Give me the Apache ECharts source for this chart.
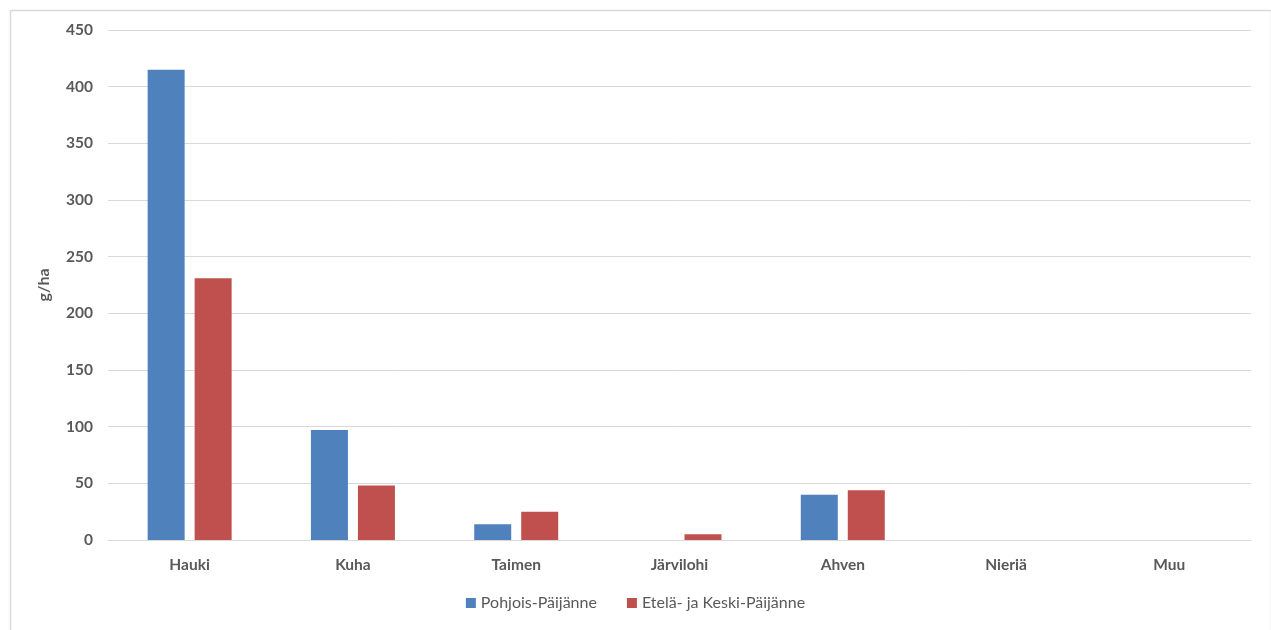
<!DOCTYPE html>
<html><head><meta charset="utf-8">
<script src="https://cdn.jsdelivr.net/npm/echarts@6/dist/echarts.min.js"></script>
<style>html,body{margin:0;padding:0;background:#fff;}#c{width:1271px;height:630px;}</style>
</head><body><div id="c"></div>
<script>
const categories = ['Hauki','Kuha','Taimen','Järvilohi','Ahven','Nieriä','Muu'];
const seriesNames = ['Pohjois-Päijänne','Etelä- ja Keski-Päijänne'];
const pohjois = [415, 97, 14, 0, 40, 0, 0];
const etela = [231, 48, 25, 5, 44, 0, 0];
const yTicks = [0,50,100,150,200,250,300,350,400,450];

const chart = echarts.init(document.getElementById('c'));
const font = 'Lato, "Open Sans", sans-serif';
chart.setOption({
  animation: false,
  graphic: [{type:'rect', left: 8, top: 8, shape:{width:1261, height:640}, style:{fill:'none', stroke:'#d9d9d9', lineWidth:1.5}}],
  grid: {left: 108, right: 20, top: 30, bottom: 90, containLabel: false},
  legend: {
    bottom: 14, left: 'center', itemWidth: 10, itemHeight: 10, itemGap: 30,
    icon: 'rect',
    textStyle: {color:'#595959', fontSize: 16, fontFamily: font},
    data: seriesNames
  },
  xAxis: {
    type: 'category', data: categories,
    axisLine: {lineStyle:{color:'#d9d9d9'}},
    axisTick: {show:false},
    axisLabel: {color:'#595959', fontSize:15.5, fontWeight:'bold', fontFamily: font, margin: 17}
  },
  yAxis: {
    type: 'value', min: yTicks[0], max: yTicks[yTicks.length-1], interval: 50,
    name: 'g/ha', nameLocation: 'middle', nameGap: 56, nameRotate: 90,
    nameTextStyle: {color:'#595959', fontSize:16, fontWeight:'bold', fontFamily: font},
    axisLine: {show:false}, axisTick: {show:false},
    splitLine: {lineStyle:{color:'#d9d9d9'}},
    axisLabel: {color:'#595959', fontSize:15.5, fontWeight:'bold', fontFamily: font, margin: 15}
  },
  series: [
    {name: seriesNames[0], type:'bar', data: pohjois, barWidth: 37, barGap:'27%', itemStyle:{color:'#4f81bd'}},
    {name: seriesNames[1], type:'bar', data: etela, barWidth: 37, barGap:'27%', itemStyle:{color:'#c0504d'}}
  ]
});
</script></body></html>
